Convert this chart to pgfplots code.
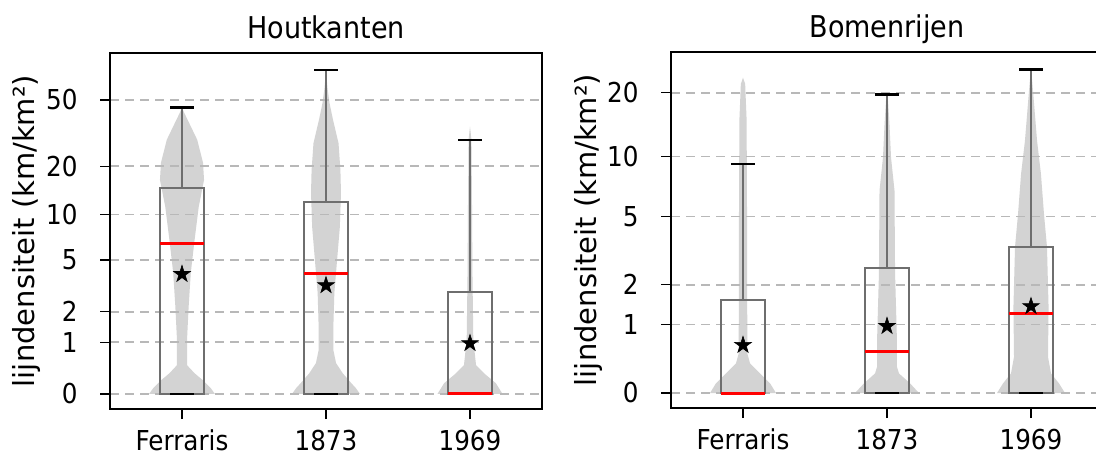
\documentclass[border=0pt]{standalone}
\usepackage{fontspec}
\setmainfont[FakeStretch=0.9]{DejaVu Sans}
\newfontfamily\ylfont{DejaVu Sans}
\usepackage{pgfplots}
\usepackage{pgfplotstable}
\pgfplotsset{compat=1.18}

\definecolor{violin}{HTML}{D3D3D3}
\definecolor{boxline}{HTML}{6E6E6E}
\definecolor{gridc}{HTML}{B8B8B8}

% filled five-pointed star, like matplotlib's '*'
\pgfdeclareplotmark{fstar}{%
  \pgfpathmoveto{\pgfpointpolar{90}{\pgfplotmarksize}}%
  \pgfpathlineto{\pgfpointpolar{126}{0.382\pgfplotmarksize}}%
  \pgfpathlineto{\pgfpointpolar{162}{\pgfplotmarksize}}%
  \pgfpathlineto{\pgfpointpolar{198}{0.382\pgfplotmarksize}}%
  \pgfpathlineto{\pgfpointpolar{234}{\pgfplotmarksize}}%
  \pgfpathlineto{\pgfpointpolar{270}{0.382\pgfplotmarksize}}%
  \pgfpathlineto{\pgfpointpolar{306}{\pgfplotmarksize}}%
  \pgfpathlineto{\pgfpointpolar{342}{0.382\pgfplotmarksize}}%
  \pgfpathlineto{\pgfpointpolar{18}{\pgfplotmarksize}}%
  \pgfpathlineto{\pgfpointpolar{54}{0.382\pgfplotmarksize}}%
  \pgfpathclose
  \pgfusepathqfillstroke}

% violin outlines: signed half width d (x units) and value v,
% up the right side, then down the left side
\pgfplotstableread{
d v
0.229 0
0.20 0.08
0.146 0.2
0.087 0.32
0.035 0.47
0.035 1.07
0.046 2.2
0.061 4.05
0.087 6.8
0.116 11.2
0.153 16.5
0.146 21
0.106 28.9
0.05 36.4
0.012 42.5
0 45.2
-0.012 42.5
-0.05 36.4
-0.106 28.9
-0.146 21
-0.153 16.5
-0.116 11.2
-0.087 6.8
-0.061 4.05
-0.046 2.2
-0.035 1.07
-0.035 0.47
-0.087 0.32
-0.146 0.2
-0.20 0.08
-0.229 0
}\hkFer
\pgfplotstableread{
d v
0.236 0
0.208 0.08
0.174 0.16
0.116 0.32
0.07 0.51
0.051 0.8
0.051 1.45
0.058 2.86
0.077 5.0
0.096 8.3
0.104 13.7
0.10 19.0
0.087 27.6
0.049 38.0
0.025 47.6
0.01 59
0 75.1
-0.01 59
-0.025 47.6
-0.049 38.0
-0.087 27.6
-0.10 19.0
-0.104 13.7
-0.096 8.3
-0.077 5.0
-0.058 2.86
-0.051 1.45
-0.051 0.8
-0.07 0.51
-0.116 0.32
-0.174 0.16
-0.208 0.08
-0.236 0
}\hkA
\pgfplotstableread{
d v
0.226 0
0.18 0.154
0.097 0.32
0.042 0.47
0.023 1.06
0.017 4.05
0.014 11.2
0.01 28.9
0 34.7
-0.01 28.9
-0.014 11.2
-0.017 4.05
-0.023 1.06
-0.042 0.47
-0.097 0.32
-0.18 0.154
-0.226 0
}\hkB
\pgfplotstableread{
d v
0.229 0
0.188 0.103
0.118 0.22
0.049 0.35
0.03 0.494
0.028 5
0.025 15
0.015 22
0 23.5
-0.015 22
-0.025 15
-0.028 5
-0.03 0.494
-0.049 0.35
-0.118 0.22
-0.188 0.103
-0.229 0
}\brFer
\pgfplotstableread{
d v
0.222 0
0.16 0.103
0.083 0.22
0.069 0.305
0.069 0.71
0.056 2.36
0.052 6.8
0.028 9.9
0.017 14.3
0.007 18.4
0 19.6
-0.007 18.4
-0.017 14.3
-0.028 9.9
-0.052 6.8
-0.056 2.36
-0.069 0.71
-0.069 0.305
-0.083 0.22
-0.16 0.103
-0.222 0
}\brA
\pgfplotstableread{
d v
0.236 0
0.194 0.103
0.139 0.22
0.118 0.444
0.122 1.39
0.111 3.39
0.09 5.16
0.069 8.23
0.042 11.93
0.014 20.4
0.004 24.4
0 25.7
-0.004 24.4
-0.014 20.4
-0.042 11.93
-0.069 8.23
-0.09 5.16
-0.111 3.39
-0.122 1.39
-0.118 0.444
-0.139 0.22
-0.194 0.103
-0.236 0
}\brB

\newcommand{\violin}[2]{% position, outline table
  \addplot[fill=violin, draw=none, forget plot, on layer=axis background]
    table[x expr=#1+\thisrow{d}, y=v] {#2} --cycle;
}

\pgfplotsset{
  panel/.style={
    width=216pt, height=178pt, scale only axis,
    xmin=0.5, xmax=3.5, xtick={1,2,3}, xticklabels={Ferraris,1873,1969},
    y coord trafo/.code={\pgfmathparse{ln(1+##1)/ln(10)}},
    y coord inv trafo/.code={\pgfmathparse{exp(##1*ln(10))-1}},
    tick align=outside, tick pos=left, major tick length=5pt,
    every tick/.style={black, line width=0.6pt},
    axis line style={line width=0.8pt},
    ymajorgrids, grid style={gridc, line width=0.8pt, dash pattern=on 4.5pt off 3pt},
    set layers,
    /pgf/number format/assume math mode=true,
    tick label style={font=\fontsize{13.7}{16}\selectfont},
    yticklabel style={anchor=east, inner sep=0pt, xshift=-11pt},
    xticklabel style={anchor=base, inner sep=0pt, yshift=-15.5pt},
    title style={font=\fontsize{15}{18}\selectfont, at={(0.5,1)}, anchor=base, yshift=1.4pt},
    ylabel={lijndensiteit (km/km²)},
    ylabel style={font=\ylfont\fontsize{14.5}{17}\selectfont,
      at={([xshift=-41.5pt]axis description cs:0,0.5)}, anchor=center},
  },
  bx/.style={boxline, line width=1pt, line join=miter},
  wh/.style={boxline, line width=1pt},
  cp/.style={black, line width=1.3pt},
  md/.style={red, line width=1.5pt},
  avg/.style={only marks, mark=fstar, mark size=4.4pt,
    mark options={fill=black, draw=black, line width=0.3pt}},
}

\begin{document}
\begin{tikzpicture}
\begin{axis}[panel, name=L, at={(0,0)}, anchor=south west,
  title={Houtkanten},
  ymin=-0.182, ymax=94.5,
  ytick={0,1,2,5,10,20,50}, yticklabels={0,1,2,5,10,20,50}]
\violin{1}{\hkFer}
\violin{2}{\hkA}
\violin{3}{\hkB}
% Ferraris
\addplot[bx] coordinates {(0.85,0) (1.15,0) (1.15,14.65) (0.85,14.65)} --cycle;
\addplot[wh] coordinates {(1,14.65) (1,45.2)};
\addplot[cp] coordinates {(0.92,45.2) (1.08,45.2)};
\addplot[cp] coordinates {(0.92,0) (1.08,0)};
\addplot[md] coordinates {(0.85,6.5) (1.15,6.5)};
\addplot[avg] coordinates {(1,3.96)};
% 1873
\addplot[bx] coordinates {(1.85,0) (2.15,0) (2.15,12.1) (1.85,12.1)} --cycle;
\addplot[wh] coordinates {(2,12.1) (2,75.1)};
\addplot[cp] coordinates {(1.92,75.1) (2.08,75.1)};
\addplot[cp] coordinates {(1.92,0) (2.08,0)};
\addplot[md] coordinates {(1.85,4.04) (2.15,4.04)};
\addplot[avg] coordinates {(2,3.27)};
% 1969
\addplot[bx] coordinates {(2.85,0) (3.15,0) (3.15,2.89) (2.85,2.89)} --cycle;
\addplot[wh] coordinates {(3,2.89) (3,28.9)};
\addplot[cp] coordinates {(2.92,28.9) (3.08,28.9)};
\addplot[cp] coordinates {(2.92,0) (3.08,0)};
\addplot[md] coordinates {(2.85,0) (3.15,0)};
\addplot[avg] coordinates {(3,0.97)};
\end{axis}

\begin{axis}[panel, name=R, at={(280.5pt,0.5pt)}, anchor=south west,
  title={Bomenrijen},
  ymin=-0.141, ymax=30.8,
  ytick={0,1,2,5,10,20}, yticklabels={0,1,2,5,10,20}]
\violin{1}{\brFer}
\violin{2}{\brA}
\violin{3}{\brB}
% Ferraris
\addplot[bx] coordinates {(0.85,0) (1.15,0) (1.15,1.56) (0.85,1.56)} --cycle;
\addplot[wh] coordinates {(1,1.56) (1,9.2)};
\addplot[cp] coordinates {(0.92,9.2) (1.08,9.2)};
\addplot[cp] coordinates {(0.92,0) (1.08,0)};
\addplot[md] coordinates {(0.85,0) (1.15,0)};
\addplot[avg] coordinates {(1,0.625)};
% 1873
\addplot[bx] coordinates {(1.85,0) (2.15,0) (2.15,2.57) (1.85,2.57)} --cycle;
\addplot[wh] coordinates {(2,2.57) (2,19.6)};
\addplot[cp] coordinates {(1.92,19.6) (2.08,19.6)};
\addplot[cp] coordinates {(1.92,0) (2.08,0)};
\addplot[md] coordinates {(1.85,0.53) (2.15,0.53)};
\addplot[avg] coordinates {(2,0.97)};
% 1969
\addplot[bx] coordinates {(2.85,0) (3.15,0) (3.15,3.39) (2.85,3.39)} --cycle;
\addplot[wh] coordinates {(3,3.39) (3,25.7)};
\addplot[cp] coordinates {(2.92,25.7) (3.08,25.7)};
\addplot[cp] coordinates {(2.92,0) (3.08,0)};
\addplot[md] coordinates {(2.85,1.24) (3.15,1.24)};
\addplot[avg] coordinates {(3,1.41)};
\end{axis}
\pgfresetboundingbox
\path[use as bounding box] (-55pt,-23pt) rectangle (493pt,204.5pt);
\end{tikzpicture}
\end{document}
